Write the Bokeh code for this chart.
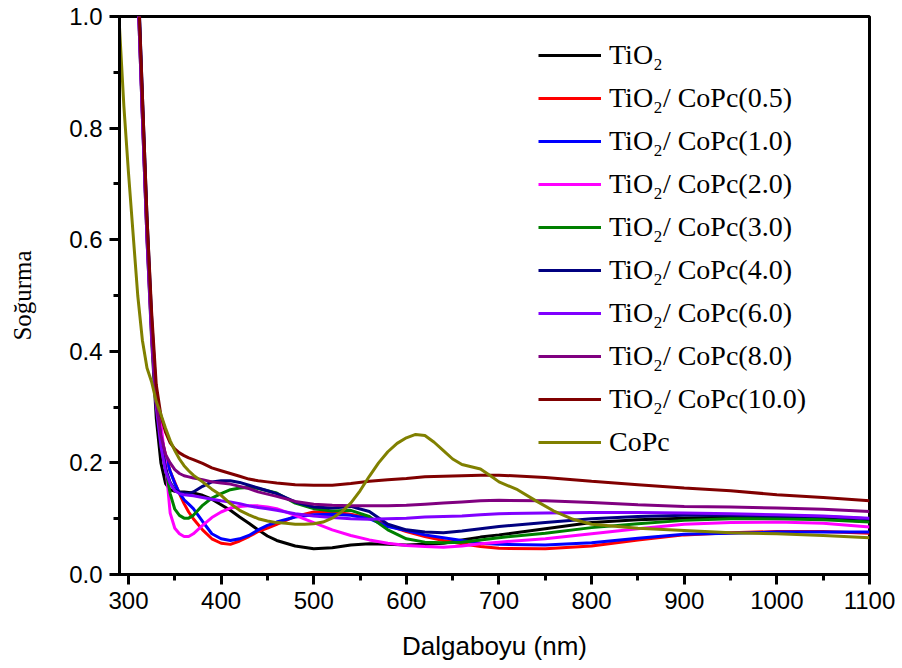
import math
from bokeh.plotting import figure
from bokeh.models import Range1d, SingleIntervalTicker, PrintfTickFormatter, Legend, LegendItem
from bokeh.embed import file_html
from bokeh.resources import INLINE

nan = float("nan")

wl = [290, 295, 300, 305, 310, 315, 320, 325, 330, 335, 340, 345, 350, 355, 360, 365, 370,
      380, 390, 400, 410, 420, 430, 440, 450, 460,
      480, 500, 520, 540, 560, 580, 600, 620, 640, 660, 680, 700,
      750, 800, 850, 900, 950, 1000, 1050, 1100]

tio2 = [nan, nan, 1.53, 1.28, 1.05, 0.82, 0.60, 0.42, 0.28, 0.20, 0.163, 0.152, 0.149, 0.148, 0.148, 0.147, 0.146,
        0.142, 0.135, 0.125, 0.115, 0.103, 0.092, 0.080, 0.069, 0.061,
        0.051, 0.046, 0.048, 0.053, 0.055, 0.054, 0.053, 0.054, 0.056, 0.062, 0.067, 0.071,
        0.082, 0.093, 0.098, 0.101, 0.103, 0.103, 0.100, 0.095]

copc_05 = [nan, nan, 1.55, 1.30, 1.07, 0.84, 0.62, 0.44, 0.31, 0.25, 0.215, 0.185, 0.165, 0.145, 0.127, 0.112, 0.100,
           0.080, 0.064, 0.056, 0.054, 0.060, 0.068, 0.077, 0.083, 0.090,
           0.104, 0.112, 0.112, 0.108, 0.101, 0.088, 0.077, 0.068, 0.061, 0.055, 0.050, 0.047,
           0.046, 0.051, 0.062, 0.071, 0.075, 0.077, 0.077, 0.074]

copc_10 = [nan, nan, 1.56, 1.31, 1.08, 0.85, 0.63, 0.45, 0.32, 0.25, 0.21, 0.185, 0.163, 0.146, 0.134, 0.126, 0.118,
           0.095, 0.073, 0.064, 0.061, 0.064, 0.070, 0.080, 0.088, 0.094,
           0.103, 0.107, 0.108, 0.106, 0.100, 0.086, 0.079, 0.071, 0.066, 0.061, 0.056, 0.054,
           0.053, 0.057, 0.065, 0.072, 0.074, 0.076, 0.076, 0.076]

copc_20 = [nan, nan, 1.54, 1.29, 1.06, 0.83, 0.61, 0.43, 0.31, 0.27, 0.20, 0.11, 0.083, 0.073, 0.068, 0.068, 0.073,
           0.088, 0.102, 0.112, 0.119, 0.122, 0.123, 0.123, 0.121, 0.118,
           0.106, 0.093, 0.080, 0.070, 0.062, 0.056, 0.052, 0.050, 0.049, 0.051, 0.055, 0.058,
           0.064, 0.073, 0.082, 0.090, 0.093, 0.094, 0.092, 0.085]

copc_30 = [nan, nan, 1.55, 1.30, 1.07, 0.84, 0.62, 0.44, 0.31, 0.24, 0.19, 0.145, 0.117, 0.106, 0.101, 0.101, 0.106,
           0.124, 0.137, 0.145, 0.152, 0.155, 0.156, 0.154, 0.150, 0.146,
           0.128, 0.118, 0.114, 0.115, 0.104, 0.080, 0.064, 0.058, 0.057, 0.058, 0.062, 0.066,
           0.074, 0.084, 0.091, 0.097, 0.100, 0.100, 0.098, 0.094]

copc_40 = [nan, nan, 1.57, 1.32, 1.09, 0.86, 0.64, 0.46, 0.32, 0.24, 0.19, 0.165, 0.152, 0.147, 0.146, 0.145, 0.148,
           0.158, 0.166, 0.168, 0.168, 0.165, 0.160, 0.155, 0.150, 0.145,
           0.130, 0.121, 0.119, 0.122, 0.113, 0.090, 0.080, 0.076, 0.075, 0.078, 0.082, 0.086,
           0.093, 0.100, 0.104, 0.106, 0.106, 0.105, 0.104, 0.100]

copc_60 = [nan, nan, 1.53, 1.28, 1.05, 0.82, 0.60, 0.43, 0.30, 0.23, 0.185, 0.163, 0.150, 0.145, 0.143, 0.142, 0.141,
           0.138, 0.135, 0.132, 0.130, 0.127, 0.123, 0.120, 0.118, 0.115,
           0.109, 0.105, 0.102, 0.100, 0.099, 0.100, 0.101, 0.103, 0.104, 0.105, 0.107, 0.109,
           0.110, 0.111, 0.111, 0.110, 0.109, 0.107, 0.105, 0.101]

copc_80 = [nan, nan, 1.54, 1.29, 1.06, 0.83, 0.61, 0.44, 0.31, 0.25, 0.215, 0.200, 0.188, 0.181, 0.177, 0.175, 0.173,
           0.170, 0.166, 0.164, 0.162, 0.158, 0.154, 0.148, 0.144, 0.140,
           0.131, 0.126, 0.124, 0.123, 0.123, 0.123, 0.124, 0.126, 0.128, 0.130, 0.132, 0.133,
           0.132, 0.129, 0.125, 0.122, 0.121, 0.119, 0.117, 0.113]

copc_100 = [nan, nan, 1.56, 1.31, 1.08, 0.86, 0.64, 0.47, 0.34, 0.285, 0.255, 0.236, 0.225, 0.218, 0.213, 0.209, 0.206,
            0.199, 0.191, 0.186, 0.181, 0.176, 0.171, 0.168, 0.166, 0.164,
            0.161, 0.160, 0.160, 0.163, 0.167, 0.170, 0.172, 0.175, 0.176, 0.177, 0.178, 0.178,
            0.174, 0.167, 0.161, 0.155, 0.150, 0.143, 0.138, 0.132]

wl_copc = [290, 295, 300, 305, 310, 315, 320, 325, 330, 335, 340, 345, 350, 355, 360, 365, 370,
           380, 390, 400, 410, 420, 430, 440, 450, 460, 470, 480, 490, 500, 510, 520, 530, 540, 550,
           560, 570, 580, 590, 600, 610, 620, 630, 640, 650, 660, 670, 680, 690, 700,
           720, 740, 760, 780, 800, 850, 900, 950, 1000, 1050, 1100]

copc = [0.99, 0.84, 0.72, 0.61, 0.50, 0.42, 0.37, 0.345, 0.31, 0.287, 0.262, 0.240, 0.222, 0.207, 0.195, 0.186, 0.178,
        0.166, 0.153, 0.142, 0.127, 0.115, 0.107, 0.100, 0.096, 0.093, 0.092, 0.090, 0.090, 0.091, 0.094, 0.101,
        0.112, 0.128, 0.150, 0.176, 0.200, 0.220, 0.235, 0.245, 0.251, 0.249, 0.237, 0.222, 0.207, 0.197, 0.193,
        0.189, 0.178, 0.166, 0.152, 0.132, 0.113, 0.099, 0.090, 0.083, 0.079, 0.075, 0.073, 0.070, 0.066]

series_labels = ["TiO\u2082", "TiO\u2082/ CoPc(0.5)", "TiO\u2082/ CoPc(1.0)", "TiO\u2082/ CoPc(2.0)",
                 "TiO\u2082/ CoPc(3.0)", "TiO\u2082/ CoPc(4.0)", "TiO\u2082/ CoPc(6.0)",
                 "TiO\u2082/ CoPc(8.0)", "TiO\u2082/ CoPc(10.0)", "CoPc"]
series_x = [wl] * 9 + [wl_copc]
series_values = [tio2, copc_05, copc_10, copc_20, copc_30, copc_40, copc_60, copc_80, copc_100, copc]
series_colors = ["#000000", "#FF0000", "#0000FF", "#FF00FF", "#008000", "#000080",
                 "#8000FF", "#800080", "#800000", "#808000"]

x_ticks_interval = 100
y_ticks_interval = 0.2

p = figure(width=902, height=668, output_backend="svg", toolbar_location=None,
           x_range=Range1d(290.3, 1100), y_range=Range1d(0, 1),
           min_border_left=119, min_border_right=33, min_border_top=16, min_border_bottom=94)
p.background_fill_color = "white"
p.border_fill_color = "white"
p.outline_line_color = "black"
p.outline_line_width = 3
p.grid.visible = False

items = []
for lab, xs, vals, col in zip(series_labels, series_x, series_values, series_colors):
    r = p.line(xs, vals, line_color=col, line_width=3)
    items.append(LegendItem(label=lab, renderers=[r]))

legend = Legend(items=items, location=(419, 115), orientation="vertical",
                glyph_width=63, glyph_height=34, label_height=34, spacing=9,
                label_standoff=8, padding=0, margin=0,
                border_line_color=None, background_fill_alpha=0,
                label_text_font="Liberation Serif", label_text_font_size="28px",
                label_text_color="black")
p.add_layout(legend)

p.xaxis.ticker = SingleIntervalTicker(interval=x_ticks_interval, num_minor_ticks=2)
p.yaxis.ticker = SingleIntervalTicker(interval=y_ticks_interval, num_minor_ticks=2)
p.yaxis.formatter = PrintfTickFormatter(format="%.1f")

for ax in (p.xaxis[0], p.yaxis[0]):
    ax.axis_line_width = 3
    ax.axis_line_color = "black"
    ax.major_tick_line_width = 3
    ax.minor_tick_line_width = 3
    ax.major_tick_out = 10
    ax.major_tick_in = 0
    ax.minor_tick_out = 6
    ax.minor_tick_in = 0
    ax.major_label_text_font = "Liberation Sans"
    ax.major_label_text_font_size = "24px"
    ax.major_label_text_color = "black"
    ax.major_label_standoff = 7
    ax.axis_label_text_color = "black"

p.xaxis.axis_label = "Dalgaboyu (nm)"
p.xaxis.axis_label_text_font = "Liberation Sans"
p.xaxis.axis_label_text_font_size = "26px"
p.xaxis.axis_label_text_font_style = "normal"
p.xaxis.axis_label_standoff = 19

p.yaxis.axis_label = "Soğurma"
p.yaxis.axis_label_text_font = "Liberation Serif"
p.yaxis.axis_label_text_font_size = "25px"
p.yaxis.axis_label_text_font_style = "normal"
p.yaxis.axis_label_standoff = 30

open("out.html", "w").write(file_html(p, INLINE))
